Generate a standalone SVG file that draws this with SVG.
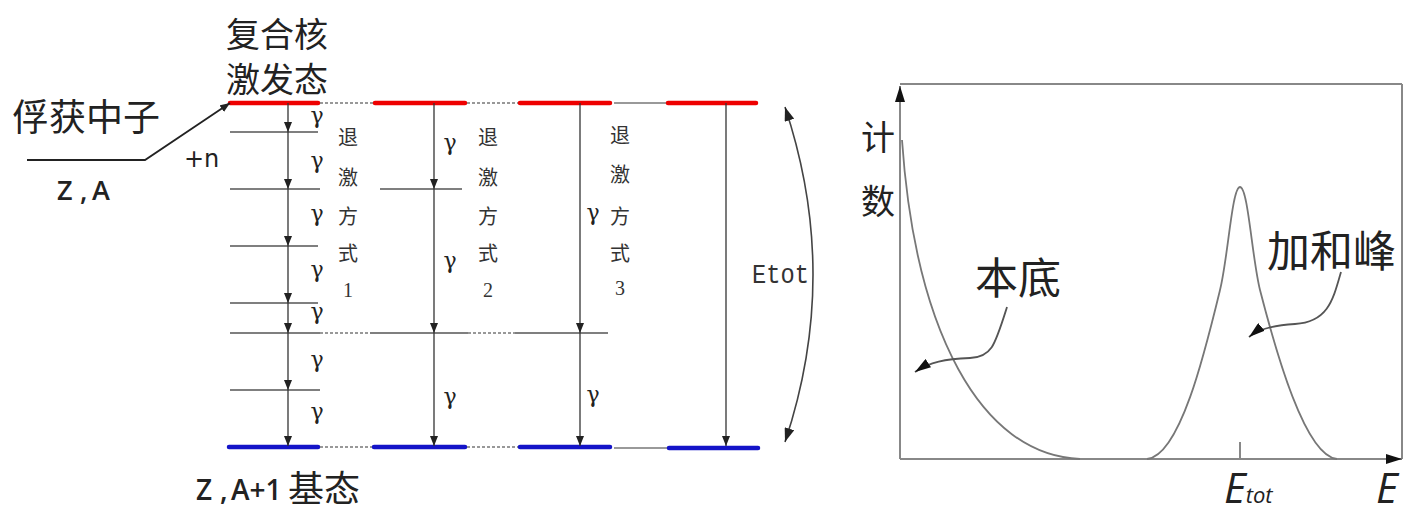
<svg xmlns="http://www.w3.org/2000/svg" width="1404" height="515" viewBox="0 0 1404 515">
<defs>
<marker id="ah" markerUnits="userSpaceOnUse" markerWidth="10" markerHeight="8" refX="10" refY="4" orient="auto"><path d="M0,0 L10,4 L0,8 z" fill="#222"/></marker>
<marker id="ahb" markerUnits="userSpaceOnUse" markerWidth="14" markerHeight="10" refX="14" refY="5" orient="auto-start-reverse"><path d="M0,0 L14,5 L0,10 z" fill="#222"/></marker>
<marker id="ahc" markerUnits="userSpaceOnUse" markerWidth="16" markerHeight="10" refX="16" refY="5" orient="auto"><path d="M0,0 L16,5 L0,10 z" fill="#111"/></marker>
<style>
.red{stroke:#e00;stroke-width:4.5;stroke-linecap:round;fill:none}
.blue{stroke:#1414c8;stroke-width:4.5;stroke-linecap:round;fill:none}
.lvl{stroke:#555;stroke-width:1.6;fill:none}
.dash{stroke:#777;stroke-width:1.5;stroke-dasharray:3 2;fill:none}
.gl{stroke:#777;stroke-width:1.5;fill:none}
.tr{stroke:#333;stroke-width:1.3;fill:none;marker-end:url(#ah)}
.ax{stroke:#888;stroke-width:2;fill:none}
.cv{stroke:#777;stroke-width:1.8;fill:none}
.cjk{font-family:"Noto Sans CJK SC",sans-serif;fill:#222}
.g{font-family:"DejaVu Serif",serif;font-size:22px;fill:#222;text-anchor:middle}
.v{font-family:"Noto Sans CJK SC",sans-serif;font-size:20px;fill:#333;text-anchor:middle}
.vd{font-family:"Liberation Serif",serif;font-size:20px;fill:#333;text-anchor:middle}
</style>
</defs>

<g id="levels">
<line class="red" x1="230" y1="103" x2="318" y2="103"/>
<line class="dash" x1="320" y1="103" x2="373" y2="103"/>
<line class="red" x1="375" y1="103" x2="465" y2="103"/>
<line class="dash" x1="467" y1="103" x2="518" y2="103"/>
<line class="red" x1="520" y1="103" x2="610" y2="103"/>
<line class="gl" x1="614" y1="103" x2="666" y2="103"/>
<line class="red" x1="668" y1="103" x2="756" y2="103"/>

<line class="lvl" x1="230" y1="132" x2="318" y2="132"/>
<line class="lvl" x1="230" y1="189" x2="320" y2="189"/>
<line class="lvl" x1="380" y1="189" x2="462" y2="189"/>
<line class="lvl" x1="230" y1="246" x2="318" y2="246"/>
<line class="lvl" x1="230" y1="303" x2="318" y2="303"/>
<line class="lvl" x1="230" y1="333" x2="320" y2="333"/>
<line class="dash" x1="320" y1="333" x2="370" y2="333"/>
<line class="lvl" x1="370" y1="333" x2="468" y2="333"/>
<line class="dash" x1="468" y1="333" x2="515" y2="333"/>
<line class="lvl" x1="515" y1="333" x2="608" y2="333"/>
<line class="lvl" x1="230" y1="390" x2="320" y2="390"/>

<line class="blue" x1="229" y1="447" x2="318" y2="447"/>
<line class="dash" x1="320" y1="447" x2="372" y2="447"/>
<line class="blue" x1="374" y1="447" x2="465" y2="447"/>
<line class="dash" x1="467" y1="447" x2="518" y2="447"/>
<line class="blue" x1="520" y1="447" x2="610" y2="447"/>
<line class="gl" x1="614" y1="448" x2="667" y2="448"/>
<line class="blue" x1="669" y1="448" x2="758" y2="448"/>
</g>

<g id="connectors">
<polyline points="27,160 145,160 230,103" fill="none" stroke="#222" stroke-width="1.8" marker-end="url(#ah)"/>
<line class="tr" x1="288" y1="103" x2="288" y2="132"/>
<line class="tr" x1="288" y1="132" x2="288" y2="189"/>
<line class="tr" x1="288" y1="189" x2="288" y2="246"/>
<line class="tr" x1="288" y1="246" x2="288" y2="303"/>
<line class="tr" x1="288" y1="303" x2="288" y2="333"/>
<line class="tr" x1="288" y1="333" x2="288" y2="390"/>
<line class="tr" x1="288" y1="390" x2="288" y2="446"/>
<line class="tr" x1="434" y1="103" x2="434" y2="189"/>
<line class="tr" x1="434" y1="189" x2="434" y2="333"/>
<line class="tr" x1="434" y1="333" x2="434" y2="446"/>
<line class="tr" x1="580" y1="103" x2="580" y2="333"/>
<line class="tr" x1="580" y1="333" x2="580" y2="446"/>
<line class="tr" x1="726" y1="103" x2="726" y2="446"/>
<path d="M785,107 Q841,275 785,442" fill="none" stroke="#444" stroke-width="1.6" marker-start="url(#ahb)" marker-end="url(#ahb)"/>
</g>

<g id="labels">
<text class="cjk" x="226" y="47" font-size="34">复合核</text>
<text class="cjk" x="226" y="92" font-size="34">激发态</text>
<text class="cjk" x="12" y="131" font-size="37">俘获中子</text>
<text x="184" y="167" font-family="DejaVu Sans,sans-serif" font-size="24" fill="#222">+n</text>
<text y="200" font-family="Open Sans,sans-serif" font-size="27" font-weight="600" fill="#222"><tspan x="57">Z</tspan><tspan x="80">,</tspan><tspan x="92">A</tspan></text>
<text y="500" font-family="Open Sans,sans-serif" font-size="28" font-weight="600" fill="#222"><tspan x="196">Z</tspan><tspan x="220">,</tspan><tspan x="231">A+1</tspan><tspan x="288" y="502" font-family="Noto Sans CJK SC,sans-serif" font-size="36" font-weight="400">基态</tspan></text>

<text class="g" x="317" y="123">γ</text>
<text class="g" x="317" y="168">γ</text>
<text class="g" x="317" y="221">γ</text>
<text class="g" x="317" y="277">γ</text>
<text class="g" x="317" y="319">γ</text>
<text class="g" x="317" y="367">γ</text>
<text class="g" x="317" y="419">γ</text>
<text class="g" x="450" y="150">γ</text>
<text class="g" x="450" y="268">γ</text>
<text class="g" x="450" y="404">γ</text>
<text class="g" x="593" y="220">γ</text>
<text class="g" x="593" y="402">γ</text>

<text class="v" x="348" y="145">退</text><text class="v" x="348" y="185">激</text><text class="v" x="348" y="224">方</text><text class="v" x="348" y="261">式</text><text class="vd" x="348" y="297">1</text>
<text class="v" x="488" y="145">退</text><text class="v" x="488" y="185">激</text><text class="v" x="488" y="224">方</text><text class="v" x="488" y="261">式</text><text class="vd" x="488" y="297">2</text>
<text class="v" x="620" y="143">退</text><text class="v" x="620" y="182">激</text><text class="v" x="620" y="224">方</text><text class="v" x="620" y="261">式</text><text class="vd" x="620" y="295">3</text>

<text x="752" y="283" font-family="Liberation Mono,monospace" font-size="28" textLength="57" lengthAdjust="spacingAndGlyphs" fill="#333">Etot</text>
</g>

<g id="spectrum">
<line class="ax" x1="900" y1="84" x2="1402" y2="84"/>
<line class="ax" x1="1402" y1="84" x2="1402" y2="459"/>
<line class="ax" x1="900" y1="459" x2="900" y2="86" marker-end="url(#ahc)"/>
<line class="ax" x1="900" y1="459" x2="1402" y2="459" marker-end="url(#ahc)"/>
<line class="ax" x1="1240" y1="442" x2="1240" y2="459"/>
<path class="cv" d="M902,140 C915,330 980,455 1080,459"/>
<path class="cv" d="M1147,459 C1180,456 1205,352 1220,290 C1228,258 1232,187 1240,187 C1248,187 1252,258 1260,290 C1276,352 1305,456 1337,459"/>
<path d="M1007,307 C995,345 992,357 970,358 C945,359 930,362 915,372" fill="none" stroke="#555" stroke-width="1.8" marker-end="url(#ahc)"/>
<path d="M1341,272 C1333,300 1328,322 1295,324 C1275,325 1260,328 1249,337" fill="none" stroke="#555" stroke-width="1.8" marker-end="url(#ahc)"/>
<text class="cjk" x="861" y="150" font-size="34">计</text>
<text class="cjk" x="861" y="214" font-size="34">数</text>
<text class="cjk" x="975" y="294" font-size="43">本底</text>
<text class="cjk" x="1267" y="267" font-size="43">加和峰</text>
<text x="1224" y="503" font-family="Open Sans,sans-serif" font-style="italic" font-size="42" fill="#222">E<tspan font-size="22">tot</tspan></text>
<text x="1376" y="503" font-family="Open Sans,sans-serif" font-style="italic" font-size="42" fill="#222">E</text>
</g>
</svg>
